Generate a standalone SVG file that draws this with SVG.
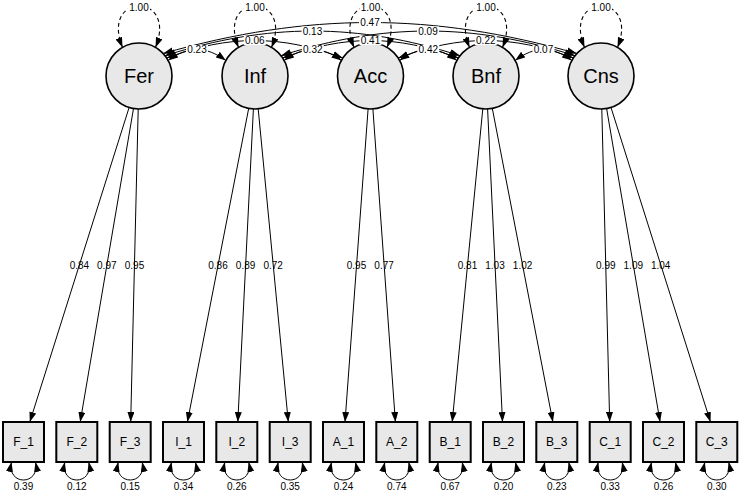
<svg xmlns="http://www.w3.org/2000/svg" width="740" height="492" viewBox="0 0 740 492">
<style>
.lat{fill:#e8e8e8;stroke:#000;stroke-width:1.6}
.obs{fill:#e8e8e8;stroke:#000;stroke-width:2}
.e{fill:none;stroke:#000;stroke-width:1}
.d{fill:none;stroke:#000;stroke-width:1.1;stroke-dasharray:4 3}
.t{font-family:"Liberation Sans",Arial,sans-serif;fill:#000;text-anchor:middle}
.ln{font-size:20px}
.on{font-size:12px}
.el{font-size:10px}
.bg{fill:#fff}
</style>
<defs>
<marker id="ah" viewBox="0 0 10 7" refX="10" refY="3.5" markerWidth="10" markerHeight="7" markerUnits="userSpaceOnUse" orient="auto-start-reverse"><path d="M0,0 L10,3.5 L0,7 z" fill="#000"/></marker>
</defs>
<g id="connectors">
<!-- loadings -->
<line class="e" x1="129.1" y1="107.5" x2="29.8" y2="422" marker-end="url(#ah)"/>
<line class="e" x1="133.5" y1="108.5" x2="80.2" y2="422" marker-end="url(#ah)"/>
<line class="e" x1="138.2" y1="109" x2="130.7" y2="422" marker-end="url(#ah)"/>
<line class="e" x1="248.7" y1="108.4" x2="187.4" y2="422" marker-end="url(#ah)"/>
<line class="e" x1="253.4" y1="109" x2="237.8" y2="422" marker-end="url(#ah)"/>
<line class="e" x1="258.2" y1="108.9" x2="288.3" y2="422" marker-end="url(#ah)"/>
<line class="e" x1="368.1" y1="108.9" x2="345" y2="422" marker-end="url(#ah)"/>
<line class="e" x1="372.9" y1="108.9" x2="395.4" y2="422" marker-end="url(#ah)"/>
<line class="e" x1="482.8" y1="108.8" x2="452.2" y2="422" marker-end="url(#ah)"/>
<line class="e" x1="487.6" y1="109" x2="502.5" y2="422" marker-end="url(#ah)"/>
<line class="e" x1="492.3" y1="108.4" x2="552.9" y2="422" marker-end="url(#ah)"/>
<line class="e" x1="601.8" y1="109" x2="609.7" y2="422" marker-end="url(#ah)"/>
<line class="e" x1="606.6" y1="108.5" x2="660.1" y2="422" marker-end="url(#ah)"/>
<line class="e" x1="611" y1="107.5" x2="710.5" y2="422" marker-end="url(#ah)"/>
<!-- latent variances -->
<path class="d" d="M122.5,47.4 C100,-8 178,-8 155.5,47.4" marker-start="url(#ah)" marker-end="url(#ah)"/>
<path class="d" d="M238.5,47.4 C216,-8 294,-8 271.5,47.4" marker-start="url(#ah)" marker-end="url(#ah)"/>
<path class="d" d="M354,47.4 C331.5,-8 409.5,-8 387,47.4" marker-start="url(#ah)" marker-end="url(#ah)"/>
<path class="d" d="M469.5,47.4 C447,-8 525,-8 502.5,47.4" marker-start="url(#ah)" marker-end="url(#ah)"/>
<path class="d" d="M584.5,47.4 C562,-8 640,-8 617.5,47.4" marker-start="url(#ah)" marker-end="url(#ah)"/>
<!-- covariances -->
<path class="e" d="M168.1,60.5 C188.3,45.8 205.7,45.8 225.9,60.5" marker-start="url(#ah)" marker-end="url(#ah)"/>
<path class="e" d="M284.1,60.5 C304.1,45.8 321.4,45.8 341.4,60.5" marker-start="url(#ah)" marker-end="url(#ah)"/>
<path class="e" d="M399.6,60.5 C419.6,45.8 436.9,45.8 456.9,60.5" marker-start="url(#ah)" marker-end="url(#ah)"/>
<path class="e" d="M515.1,60.5 C535.1,45.8 551.9,45.8 571.9,60.5" marker-start="url(#ah)" marker-end="url(#ah)"/>
<path class="e" d="M166.7,58 C228.3,34.7 281.2,34.7 342.8,58" marker-start="url(#ah)" marker-end="url(#ah)"/>
<path class="e" d="M282.7,58 C344.2,34.7 396.8,34.7 458.3,58" marker-start="url(#ah)" marker-end="url(#ah)"/>
<path class="e" d="M398.2,58 C459.5,34.7 512,34.7 573.3,58" marker-start="url(#ah)" marker-end="url(#ah)"/>
<path class="e" d="M165,55.7 C268,22.8 357,22.8 460,55.7" marker-start="url(#ah)" marker-end="url(#ah)"/>
<path class="e" d="M281,55.7 C384,22.8 472,22.8 575,55.7" marker-start="url(#ah)" marker-end="url(#ah)"/>
<path class="e" d="M163.1,53.5 C308,12.2 432,12.2 576.9,53.5" marker-start="url(#ah)" marker-end="url(#ah)"/>
<!-- residual variances -->
<path class="e" d="M11.5,462 C6.5,486 40.5,486 35.5,462" marker-start="url(#ah)" marker-end="url(#ah)"/>
<path class="e" d="M64.8,462 C59.8,486 93.8,486 88.8,462" marker-start="url(#ah)" marker-end="url(#ah)"/>
<path class="e" d="M118.2,462 C113.2,486 147.2,486 142.2,462" marker-start="url(#ah)" marker-end="url(#ah)"/>
<path class="e" d="M171.5,462 C166.5,486 200.5,486 195.5,462" marker-start="url(#ah)" marker-end="url(#ah)"/>
<path class="e" d="M224.8,462 C219.8,486 253.8,486 248.8,462" marker-start="url(#ah)" marker-end="url(#ah)"/>
<path class="e" d="M278.2,462 C273.2,486 307.2,486 302.2,462" marker-start="url(#ah)" marker-end="url(#ah)"/>
<path class="e" d="M331.5,462 C326.5,486 360.5,486 355.5,462" marker-start="url(#ah)" marker-end="url(#ah)"/>
<path class="e" d="M384.8,462 C379.8,486 413.8,486 408.8,462" marker-start="url(#ah)" marker-end="url(#ah)"/>
<path class="e" d="M438.2,462 C433.2,486 467.2,486 462.2,462" marker-start="url(#ah)" marker-end="url(#ah)"/>
<path class="e" d="M491.5,462 C486.5,486 520.5,486 515.5,462" marker-start="url(#ah)" marker-end="url(#ah)"/>
<path class="e" d="M544.8,462 C539.8,486 573.8,486 568.8,462" marker-start="url(#ah)" marker-end="url(#ah)"/>
<path class="e" d="M598.2,462 C593.2,486 627.2,486 622.2,462" marker-start="url(#ah)" marker-end="url(#ah)"/>
<path class="e" d="M651.5,462 C646.5,486 680.5,486 675.5,462" marker-start="url(#ah)" marker-end="url(#ah)"/>
<path class="e" d="M704.8,462 C699.8,486 733.8,486 728.8,462" marker-start="url(#ah)" marker-end="url(#ah)"/>
</g>
<g id="Fer"><circle class="lat" cx="139" cy="76" r="33"/><text class="t ln" x="139" y="83">Fer</text></g>
<g id="Inf"><circle class="lat" cx="255" cy="76" r="33"/><text class="t ln" x="255" y="83">Inf</text></g>
<g id="Acc"><circle class="lat" cx="370.5" cy="76" r="33"/><text class="t ln" x="370.5" y="83">Acc</text></g>
<g id="Bnf"><circle class="lat" cx="486" cy="76" r="33"/><text class="t ln" x="486" y="83">Bnf</text></g>
<g id="Cns"><circle class="lat" cx="601" cy="76" r="33"/><text class="t ln" x="601" y="83">Cns</text></g>
<g id="F_1"><rect class="obs" x="3" y="422" width="41" height="40"/><text class="t on" x="23.5" y="446">F_1</text></g>
<g id="F_2"><rect class="obs" x="56.3" y="422" width="41" height="40"/><text class="t on" x="76.8" y="446">F_2</text></g>
<g id="F_3"><rect class="obs" x="109.7" y="422" width="41" height="40"/><text class="t on" x="130.2" y="446">F_3</text></g>
<g id="I_1"><rect class="obs" x="163" y="422" width="41" height="40"/><text class="t on" x="183.5" y="446">I_1</text></g>
<g id="I_2"><rect class="obs" x="216.3" y="422" width="41" height="40"/><text class="t on" x="236.8" y="446">I_2</text></g>
<g id="I_3"><rect class="obs" x="269.7" y="422" width="41" height="40"/><text class="t on" x="290.2" y="446">I_3</text></g>
<g id="A_1"><rect class="obs" x="323" y="422" width="41" height="40"/><text class="t on" x="343.5" y="446">A_1</text></g>
<g id="A_2"><rect class="obs" x="376.3" y="422" width="41" height="40"/><text class="t on" x="396.8" y="446">A_2</text></g>
<g id="B_1"><rect class="obs" x="429.7" y="422" width="41" height="40"/><text class="t on" x="450.2" y="446">B_1</text></g>
<g id="B_2"><rect class="obs" x="483" y="422" width="41" height="40"/><text class="t on" x="503.5" y="446">B_2</text></g>
<g id="B_3"><rect class="obs" x="536.3" y="422" width="41" height="40"/><text class="t on" x="556.8" y="446">B_3</text></g>
<g id="C_1"><rect class="obs" x="589.7" y="422" width="41" height="40"/><text class="t on" x="610.2" y="446">C_1</text></g>
<g id="C_2"><rect class="obs" x="643" y="422" width="41" height="40"/><text class="t on" x="663.5" y="446">C_2</text></g>
<g id="C_3"><rect class="obs" x="696.3" y="422" width="41" height="40"/><text class="t on" x="716.8" y="446">C_3</text></g>
<g id="edge-labels">
<g class="t el">
<text x="79.4" y="268.5">0.84</text>
<text x="106.8" y="268.5">0.97</text>
<text x="134.5" y="268.5">0.95</text>
<text x="218" y="268.5">0.86</text>
<text x="245.6" y="268.5">0.89</text>
<text x="273.2" y="268.5">0.72</text>
<text x="356.5" y="268.5">0.95</text>
<text x="384.1" y="268.5">0.77</text>
<text x="467.5" y="268.5">0.81</text>
<text x="495" y="268.5">1.03</text>
<text x="522.6" y="268.5">1.02</text>
<text x="605.8" y="268.5">0.99</text>
<text x="633.3" y="268.5">1.09</text>
<text x="660.7" y="268.5">1.04</text>
</g>
<g class="bg">
<rect x="128" y="2.5" width="22" height="9"/><rect x="244" y="2.5" width="22" height="9"/><rect x="359.5" y="2.5" width="22" height="9"/><rect x="475" y="2.5" width="22" height="9"/><rect x="590" y="2.5" width="22" height="9"/>
<rect x="186" y="45" width="22" height="9"/><rect x="301.8" y="45" width="22" height="9"/><rect x="417.3" y="45" width="22" height="9"/><rect x="532.5" y="45" width="22" height="9"/>
<rect x="243.8" y="36" width="22" height="9"/><rect x="359.5" y="36" width="22" height="9"/><rect x="474.8" y="36" width="22" height="9"/>
<rect x="301.5" y="26.5" width="22" height="9"/><rect x="417" y="26.5" width="22" height="9"/><rect x="359" y="18" width="22" height="9"/>
</g>
<g class="t el">
<text x="139" y="10.5">1.00</text><text x="255" y="10.5">1.00</text><text x="370.5" y="10.5">1.00</text><text x="486" y="10.5">1.00</text><text x="601" y="10.5">1.00</text>
<text x="197" y="53">0.23</text><text x="312.8" y="53">0.32</text><text x="428.3" y="53">0.42</text><text x="543.5" y="53">0.07</text>
<text x="254.8" y="44">0.06</text><text x="370.5" y="44">0.41</text><text x="485.8" y="44">0.22</text>
<text x="312.5" y="34.5">0.13</text><text x="428" y="34.5">0.09</text><text x="370" y="26">0.47</text>
</g>
<g class="bg">
<rect x="12.5" y="481" width="22" height="9"/><rect x="65.8" y="481" width="22" height="9"/><rect x="119.2" y="481" width="22" height="9"/><rect x="172.5" y="481" width="22" height="9"/><rect x="225.8" y="481" width="22" height="9"/><rect x="279.2" y="481" width="22" height="9"/><rect x="332.5" y="481" width="22" height="9"/><rect x="385.8" y="481" width="22" height="9"/><rect x="439.2" y="481" width="22" height="9"/><rect x="492.5" y="481" width="22" height="9"/><rect x="545.8" y="481" width="22" height="9"/><rect x="599.2" y="481" width="22" height="9"/><rect x="652.5" y="481" width="22" height="9"/><rect x="705.8" y="481" width="22" height="9"/>
</g>
<g class="t el">
<text x="23.5" y="489.5">0.39</text><text x="76.8" y="489.5">0.12</text><text x="130.2" y="489.5">0.15</text><text x="183.5" y="489.5">0.34</text><text x="236.8" y="489.5">0.26</text><text x="290.2" y="489.5">0.35</text><text x="343.5" y="489.5">0.24</text><text x="396.8" y="489.5">0.74</text><text x="450.2" y="489.5">0.67</text><text x="503.5" y="489.5">0.20</text><text x="556.8" y="489.5">0.23</text><text x="610.2" y="489.5">0.33</text><text x="663.5" y="489.5">0.26</text><text x="716.8" y="489.5">0.30</text>
</g>
</g>
</svg>
